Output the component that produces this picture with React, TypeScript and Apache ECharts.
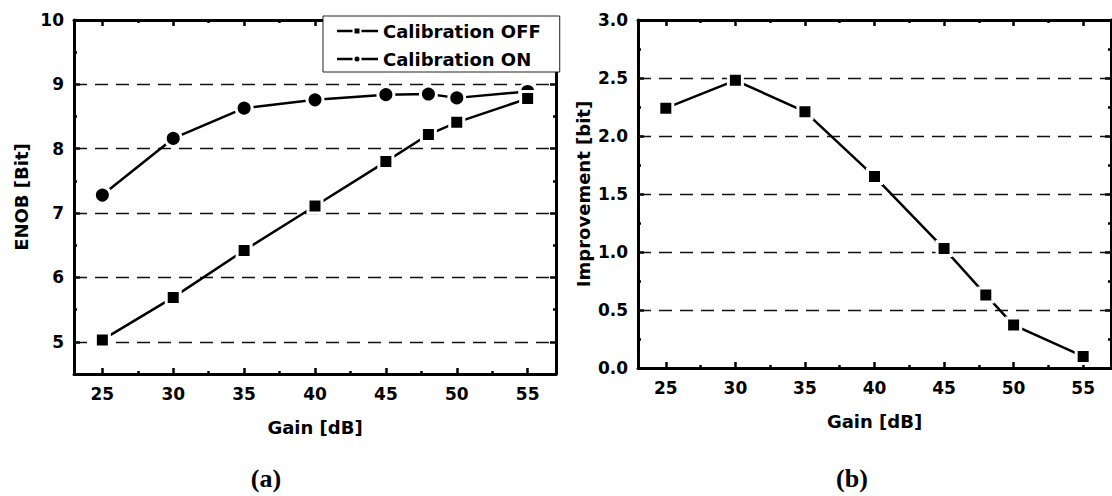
import React, { useEffect, useRef } from "react";
import * as echarts from "echarts";

// Gain sweep (dB) shared by both panels
const gain = [25, 30, 35, 40, 45, 48, 50, 55];
// ENOB without and with calibration (bits)
const enobOff = [5.03, 5.69, 6.42, 7.11, 7.8, 8.22, 8.41, 8.78];
const enobOn = [7.28, 8.16, 8.63, 8.76, 8.84, 8.85, 8.79, 8.89];
// ENOB improvement from calibration (bits)
const improvement = [2.24, 2.48, 2.21, 1.65, 1.03, 0.63, 0.37, 0.1];

// Tick positions
const gainMajor = [25, 30, 35, 40, 45, 50, 55];
const gainMinor = [27.5, 32.5, 37.5, 42.5, 47.5, 52.5];
const enobMajor = [5, 6, 7, 8, 9, 10];
const enobMinor = [4.5, 5.5, 6.5, 7.5, 8.5, 9.5];
const enobGrid = [5, 6, 7, 8, 9];
const impMajor = [0, 0.5, 1, 1.5, 2, 2.5, 3];
const impMinor = [0.25, 0.75, 1.25, 1.75, 2.25, 2.75];
const impGrid = [0.5, 1, 1.5, 2, 2.5];

const FONT = "DejaVu Sans";
const INK = "#000";

const labelStyle = { fontFamily: FONT, fontWeight: "bold" as const, fontSize: 17, color: INK };

function xAxes(gridIndex: number, nameGap: number) {
  const base = {
    gridIndex,
    type: "value" as const,
    min: 23,
    max: 57,
    splitLine: { show: false },
  };
  return [
    {
      ...base,
      position: "bottom",
      name: "Gain [dB]",
      nameLocation: "middle",
      nameGap,
      nameTextStyle: { fontFamily: FONT, fontWeight: "bold", fontSize: 18, color: INK },
      axisLine: { show: true, onZero: false, lineStyle: { color: INK, width: 3 } },
      axisTick: { show: true, inside: true, length: 6, customValues: gainMajor, lineStyle: { color: INK, width: 2.5 } },
      axisLabel: { show: true, customValues: gainMajor, margin: 11, ...labelStyle },
    },
    {
      ...base,
      position: "bottom",
      axisLine: { show: false, onZero: false },
      axisTick: { show: true, inside: true, length: 3, customValues: gainMinor, lineStyle: { color: INK, width: 2.5 } },
      axisLabel: { show: false },
    },
    {
      ...base,
      position: "top",
      axisLine: { show: true, onZero: false, lineStyle: { color: INK, width: 3 } },
      axisTick: { show: true, inside: true, length: 6, customValues: gainMajor, lineStyle: { color: INK, width: 2.5 } },
      axisLabel: { show: false },
    },
    {
      ...base,
      position: "top",
      axisLine: { show: false, onZero: false },
      axisTick: { show: true, inside: true, length: 3, customValues: gainMinor, lineStyle: { color: INK, width: 2.5 } },
      axisLabel: { show: false },
    },
  ];
}

function yAxes(
  gridIndex: number,
  min: number,
  max: number,
  major: number[],
  minor: number[],
  name: string,
  nameGap: number,
  fmt: (v: number) => string
) {
  const base = {
    gridIndex,
    type: "value" as const,
    min,
    max,
    splitLine: { show: false },
  };
  return [
    {
      ...base,
      position: "left",
      name,
      nameLocation: "middle",
      nameGap,
      nameTextStyle: { fontFamily: FONT, fontWeight: "bold", fontSize: 18, color: INK },
      axisLine: { show: true, onZero: false, lineStyle: { color: INK, width: 3 } },
      axisTick: { show: true, inside: true, length: 6, customValues: major, lineStyle: { color: INK, width: 2.5 } },
      axisLabel: { show: true, customValues: major, margin: 10, formatter: fmt, ...labelStyle },
    },
    {
      ...base,
      position: "left",
      axisLine: { show: false, onZero: false },
      axisTick: { show: true, inside: true, length: 3, customValues: minor, lineStyle: { color: INK, width: 2.5 } },
      axisLabel: { show: false },
    },
    {
      ...base,
      position: "right",
      axisLine: { show: true, onZero: false, lineStyle: { color: INK, width: 3 } },
      axisTick: { show: true, inside: true, length: 6, customValues: major, lineStyle: { color: INK, width: 2.5 } },
      axisLabel: { show: false },
    },
    {
      ...base,
      position: "right",
      axisLine: { show: false, onZero: false },
      axisTick: { show: true, inside: true, length: 3, customValues: minor, lineStyle: { color: INK, width: 2.5 } },
      axisLabel: { show: false },
    },
  ];
}

function gridLines(values: number[]) {
  return {
    silent: true,
    symbol: "none",
    z: 1,
    label: { show: false },
    lineStyle: { color: "#111", width: 1.3, type: [13, 8] as number[] },
    emphasis: { disabled: true },
    data: values.map((v) => ({ yAxis: v })),
  };
}

const markerStyle = { color: INK, borderColor: "#fff", borderWidth: 3 };
const seriesLine = { color: INK, width: 2.5 };

// Legend icons: dash, marker, dash
const iconSquare = "path://M0 1.25h15.5v2.5H0z M17.5 0h5v5h-5z M24.5 1.25H41v2.5H24.5z";
const iconCircle =
  "path://M0 1.25h15.5v2.5H0z M20 0A2.5 2.5 0 1 1 20 5A2.5 2.5 0 1 1 20 0z M24.5 1.25H41v2.5H24.5z";

export default function App() {
  const ref = useRef<HTMLDivElement>(null);

  useEffect(() => {
    if (!ref.current) return;
    const chart = echarts.init(ref.current, undefined, { renderer: "svg" });

    chart.setOption({
      animation: false,
      backgroundColor: "#fff",
      grid: [
        { left: 74, top: 20, width: 482, height: 354 },
        { left: 638, top: 20, width: 473, height: 348 },
      ],
      xAxis: [...xAxes(0, 44), ...xAxes(1, 44)],
      yAxis: [
        ...yAxes(0, 4.5, 10, enobMajor, enobMinor, "ENOB [Bit]", 44, (v) => String(v)),
        ...yAxes(1, 0, 3, impMajor, impMinor, "Improvement [bit]", 46, (v) => v.toFixed(1)),
      ],
      legend: {
        left: 323,
        top: 16,
        orient: "vertical",
        padding: [6, 19, 4, 14],
        itemGap: 10,
        itemWidth: 41,
        itemHeight: 5,
        itemTextGap: 5,
        backgroundColor: "#fff",
        borderColor: "#222",
        borderWidth: 1,
        borderRadius: 0,
        z: 10,
        itemStyle: { borderWidth: 0, color: INK },
        textStyle: { fontFamily: FONT, fontWeight: "bold", fontSize: 18, color: INK },
        data: [
          { name: "Calibration OFF", icon: iconSquare },
          { name: "Calibration ON", icon: iconCircle },
        ],
      },
      graphic: [
        {
          type: "text",
          x: 266,
          y: 478,
          style: {
            text: "(a)",
            font: 'bold 26px "Liberation Serif"',
            fill: INK,
            textAlign: "center",
            textVerticalAlign: "middle",
          },
        },
        {
          type: "text",
          x: 852,
          y: 478,
          style: {
            text: "(b)",
            font: 'bold 26px "Liberation Serif"',
            fill: INK,
            textAlign: "center",
            textVerticalAlign: "middle",
          },
        },
      ],
      series: [
        {
          name: "Calibration OFF",
          type: "line",
          xAxisIndex: 0,
          yAxisIndex: 0,
          data: gain.map((g, i) => [g, enobOff[i]]),
          symbol: "rect",
          symbolSize: 14,
          lineStyle: seriesLine,
          itemStyle: markerStyle,
          z: 3,
          markLine: gridLines(enobGrid),
        },
        {
          name: "Calibration ON",
          type: "line",
          xAxisIndex: 0,
          yAxisIndex: 0,
          data: gain.map((g, i) => [g, enobOn[i]]),
          symbol: "circle",
          symbolSize: 16,
          lineStyle: seriesLine,
          itemStyle: markerStyle,
          z: 2,
        },
        {
          name: "Improvement",
          type: "line",
          xAxisIndex: 4,
          yAxisIndex: 4,
          data: gain.map((g, i) => [g, improvement[i]]),
          symbol: "rect",
          symbolSize: 14,
          lineStyle: seriesLine,
          itemStyle: markerStyle,
          z: 3,
          markLine: gridLines(impGrid),
        },
      ],
    });

    return () => chart.dispose();
  }, []);

  return (
    <div
      ref={ref}
      style={{ position: "absolute", left: 0, top: 0, width: 1112, height: 496 }}
    />
  );
}
